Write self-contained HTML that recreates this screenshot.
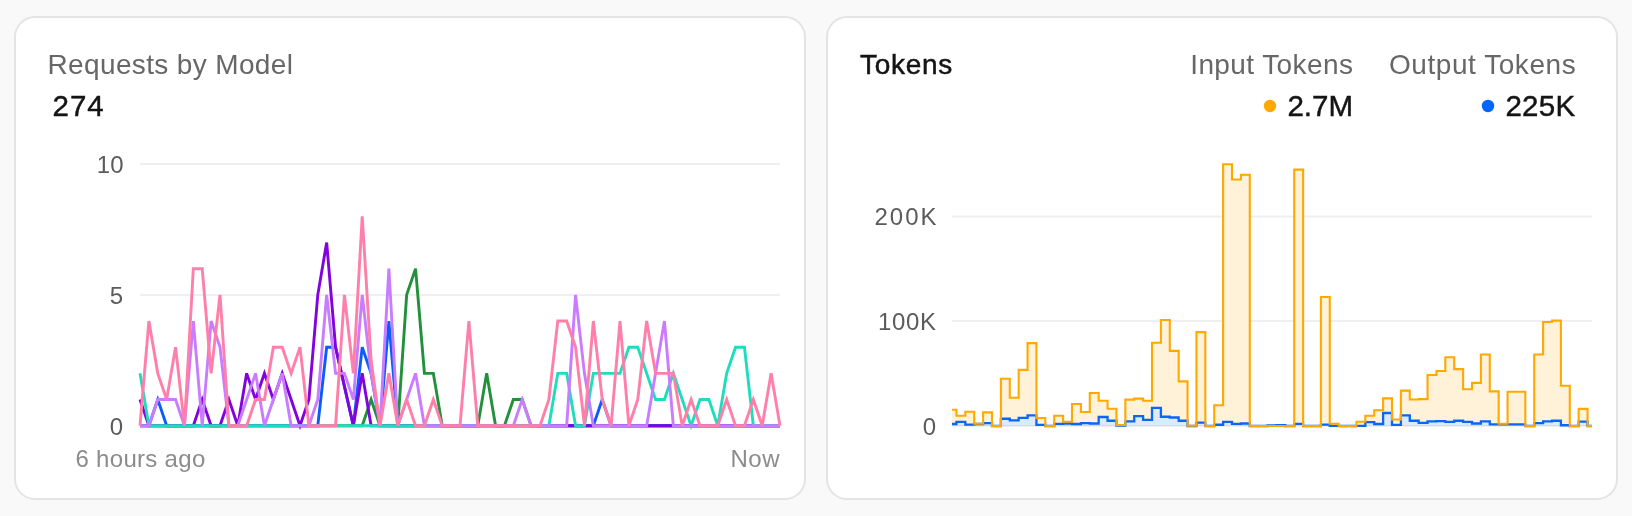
<!DOCTYPE html>
<html><head><meta charset="utf-8"><title>Dashboard</title>
<style>
html,body{margin:0;padding:0;background:#f9f9f9;width:1632px;height:516px;overflow:hidden}
svg{position:absolute;left:0;top:0;display:block;will-change:transform}
text{font-family:'Liberation Sans', Arial, sans-serif}
.card{fill:#fff;stroke:#e4e4e4;stroke-width:2}
.title{font-size:28px;fill:#676767}
.big{font-size:29.5px;fill:#141414}
.ax{font-size:24px;fill:#5b5b5b}
.xl{font-size:24px;fill:#8c8c8c}
.grid{stroke:#efefef;stroke-width:2}
</style></head>
<body>
<svg width="1632" height="516" viewBox="0 0 1632 516">
<rect class="card" x="15" y="17" width="790" height="482" rx="20" ry="20"/>
<rect class="card" x="827" y="17" width="790" height="482" rx="20" ry="20"/>

<!-- Left card -->
<text class="title" x="47.5" y="74" letter-spacing="0.36">Requests by Model</text>
<text class="big" x="52.5" y="116.2" letter-spacing="1.0" stroke="#141414" stroke-width="0.45">274</text>
<line class="grid" x1="140" y1="164" x2="780" y2="164"/>
<line class="grid" x1="140" y1="295" x2="780" y2="295"/>
<line class="grid" x1="140" y1="425.7" x2="780" y2="425.7"/>
<text class="ax" x="123.5" y="172.8" text-anchor="end">10</text>
<text class="ax" x="123" y="303.8" text-anchor="end">5</text>
<text class="ax" x="123" y="434.8" text-anchor="end">0</text>
<text class="xl" x="75.5" y="467" letter-spacing="0.3">6 hours ago</text>
<text class="xl" x="780.2" y="467" text-anchor="end" letter-spacing="0.6">Now</text>
<g>
<polyline points="140.00,425.70 148.89,425.70 157.78,425.70 166.67,425.70 175.56,425.70 184.44,425.70 193.33,425.70 202.22,425.70 211.11,425.70 220.00,425.70 228.89,425.70 237.78,425.70 246.67,425.70 255.56,425.70 264.44,425.70 273.33,425.70 282.22,425.70 291.11,425.70 300.00,425.70 308.89,425.70 317.78,425.70 326.67,425.70 335.56,425.70 344.44,425.70 353.33,425.70 362.22,425.70 371.11,399.53 380.00,425.70 388.89,425.70 397.78,425.70 406.67,294.85 415.56,268.68 424.44,373.36 433.33,373.36 442.22,425.70 451.11,425.70 460.00,425.70 468.89,425.70 477.78,425.70 486.67,373.36 495.56,425.70 504.44,425.70 513.33,399.53 522.22,399.53 531.11,425.70 540.00,425.70 548.89,425.70 557.78,425.70 566.67,425.70 575.56,425.70 584.44,425.70 593.33,425.70 602.22,425.70 611.11,425.70 620.00,425.70 628.89,425.70 637.78,425.70 646.67,425.70 655.56,425.70 664.44,425.70 673.33,425.70 682.22,425.70 691.11,425.70 700.00,425.70 708.89,425.70 717.78,425.70 726.67,425.70 735.56,425.70 744.44,425.70 753.33,425.70 762.22,425.70 771.11,425.70 780.00,425.70" fill="none" stroke="#22913c" stroke-width="2.9"/>
<polyline points="140.00,425.70 148.89,425.70 157.78,399.53 166.67,425.70 175.56,425.70 184.44,425.70 193.33,425.70 202.22,425.70 211.11,425.70 220.00,425.70 228.89,425.70 237.78,425.70 246.67,425.70 255.56,425.70 264.44,425.70 273.33,425.70 282.22,425.70 291.11,425.70 300.00,425.70 308.89,425.70 317.78,425.70 326.67,347.19 335.56,347.19 344.44,386.44 353.33,425.70 362.22,347.19 371.11,373.36 380.00,425.70 388.89,321.02 397.78,425.70 406.67,425.70 415.56,425.70 424.44,425.70 433.33,425.70 442.22,425.70 451.11,425.70 460.00,425.70 468.89,425.70 477.78,425.70 486.67,425.70 495.56,425.70 504.44,425.70 513.33,425.70 522.22,425.70 531.11,425.70 540.00,425.70 548.89,425.70 557.78,425.70 566.67,425.70 575.56,425.70 584.44,425.70 593.33,425.70 602.22,399.53 611.11,425.70 620.00,425.70 628.89,425.70 637.78,425.70 646.67,425.70 655.56,425.70 664.44,425.70 673.33,425.70 682.22,425.70 691.11,425.70 700.00,425.70 708.89,425.70 717.78,425.70 726.67,425.70 735.56,425.70 744.44,425.70 753.33,425.70 762.22,425.70 771.11,425.70 780.00,425.70" fill="none" stroke="#0b5cff" stroke-width="2.9"/>
<polyline points="140.00,399.53 148.89,425.70 157.78,425.70 166.67,425.70 175.56,425.70 184.44,425.70 193.33,425.70 202.22,399.53 211.11,425.70 220.00,425.70 228.89,399.53 237.78,425.70 246.67,373.36 255.56,399.53 264.44,373.36 273.33,399.53 282.22,373.36 291.11,399.53 300.00,425.70 308.89,399.53 317.78,294.85 326.67,242.51 335.56,347.19 344.44,386.44 353.33,425.70 362.22,373.36 371.11,425.70 380.00,425.70 388.89,425.70 397.78,425.70 406.67,425.70 415.56,425.70 424.44,425.70 433.33,425.70 442.22,425.70 451.11,425.70 460.00,425.70 468.89,425.70 477.78,425.70 486.67,425.70 495.56,425.70 504.44,425.70 513.33,425.70 522.22,425.70 531.11,425.70 540.00,425.70 548.89,425.70 557.78,425.70 566.67,425.70 575.56,425.70 584.44,425.70 593.33,425.70 602.22,425.70 611.11,425.70 620.00,425.70 628.89,425.70 637.78,425.70 646.67,425.70 655.56,425.70 664.44,425.70 673.33,425.70 682.22,425.70 691.11,425.70 700.00,425.70 708.89,425.70 717.78,425.70 726.67,425.70 735.56,425.70 744.44,425.70 753.33,425.70 762.22,425.70 771.11,425.70 780.00,425.70" fill="none" stroke="#8303dd" stroke-width="2.9"/>
<polyline points="140.00,373.36 148.89,425.70 157.78,425.70 166.67,425.70 175.56,425.70 184.44,425.70 193.33,425.70 202.22,425.70 211.11,425.70 220.00,425.70 228.89,425.70 237.78,425.70 246.67,425.70 255.56,425.70 264.44,425.70 273.33,425.70 282.22,425.70 291.11,425.70 300.00,425.70 308.89,425.70 317.78,425.70 326.67,425.70 335.56,425.70 344.44,425.70 353.33,425.70 362.22,425.70 371.11,425.70 380.00,425.70 388.89,425.70 397.78,425.70 406.67,425.70 415.56,425.70 424.44,425.70 433.33,425.70 442.22,425.70 451.11,425.70 460.00,425.70 468.89,425.70 477.78,425.70 486.67,425.70 495.56,425.70 504.44,425.70 513.33,425.70 522.22,425.70 531.11,425.70 540.00,425.70 548.89,425.70 557.78,373.36 566.67,373.36 575.56,425.70 584.44,425.70 593.33,373.36 602.22,373.36 611.11,373.36 620.00,373.36 628.89,347.19 637.78,347.19 646.67,373.36 655.56,399.53 664.44,399.53 673.33,373.36 682.22,399.53 691.11,425.70 700.00,399.53 708.89,399.53 717.78,425.70 726.67,373.36 735.56,347.19 744.44,347.19 753.33,425.70 762.22,425.70 771.11,425.70 780.00,425.70" fill="none" stroke="#1fdcbd" stroke-width="2.9"/>
<polyline points="140.00,425.70 148.89,425.70 157.78,399.53 166.67,399.53 175.56,399.53 184.44,425.70 193.33,321.02 202.22,425.70 211.11,321.02 220.00,347.19 228.89,425.70 237.78,425.70 246.67,399.53 255.56,373.36 264.44,425.70 273.33,399.53 282.22,373.36 291.11,425.70 300.00,425.70 308.89,425.70 317.78,399.53 326.67,294.85 335.56,373.36 344.44,373.36 353.33,399.53 362.22,294.85 371.11,373.36 380.00,425.70 388.89,268.68 397.78,425.70 406.67,399.53 415.56,373.36 424.44,425.70 433.33,425.70 442.22,425.70 451.11,425.70 460.00,425.70 468.89,425.70 477.78,425.70 486.67,425.70 495.56,425.70 504.44,425.70 513.33,425.70 522.22,399.53 531.11,425.70 540.00,425.70 548.89,425.70 557.78,425.70 566.67,425.70 575.56,294.85 584.44,373.36 593.33,425.70 602.22,425.70 611.11,425.70 620.00,425.70 628.89,425.70 637.78,425.70 646.67,425.70 655.56,373.36 664.44,321.02 673.33,425.70 682.22,425.70 691.11,425.70 700.00,425.70 708.89,425.70 717.78,425.70 726.67,425.70 735.56,425.70 744.44,425.70 753.33,425.70 762.22,425.70 771.11,425.70 780.00,425.70" fill="none" stroke="#c97cff" stroke-width="2.9"/>
<polyline points="140.00,425.70 148.89,321.02 157.78,373.36 166.67,399.53 175.56,347.19 184.44,425.70 193.33,268.68 202.22,268.68 211.11,373.36 220.00,294.85 228.89,425.70 237.78,425.70 246.67,425.70 255.56,399.53 264.44,399.53 273.33,347.19 282.22,347.19 291.11,373.36 300.00,347.19 308.89,425.70 317.78,425.70 326.67,425.70 335.56,425.70 344.44,294.85 353.33,373.36 362.22,216.34 371.11,360.27 380.00,425.70 388.89,373.36 397.78,425.70 406.67,399.53 415.56,425.70 424.44,425.70 433.33,399.53 442.22,425.70 451.11,425.70 460.00,425.70 468.89,321.02 477.78,425.70 486.67,425.70 495.56,425.70 504.44,425.70 513.33,425.70 522.22,425.70 531.11,425.70 540.00,425.70 548.89,399.53 557.78,321.02 566.67,321.02 575.56,347.19 584.44,425.70 593.33,321.02 602.22,399.53 611.11,425.70 620.00,321.02 628.89,425.70 637.78,399.53 646.67,321.02 655.56,373.36 664.44,373.36 673.33,373.36 682.22,425.70 691.11,399.53 700.00,425.70 708.89,425.70 717.78,425.70 726.67,399.53 735.56,425.70 744.44,425.70 753.33,399.53 762.22,425.70 771.11,373.36 780.00,425.70" fill="none" stroke="#ff7fa8" stroke-width="2.9"/>
</g>

<!-- Right card -->
<text class="big" x="860" y="74" style="font-size:28px" letter-spacing="0.7" stroke="#141414" stroke-width="0.5">Tokens</text>
<text class="title" x="1353.3" y="74" text-anchor="end" letter-spacing="0.4">Input Tokens</text>
<text class="title" x="1576.2" y="74" text-anchor="end" letter-spacing="0.55">Output Tokens</text>
<circle cx="1270" cy="106" r="6.2" fill="#ffaa00"/>
<text class="big" x="1353" y="116.2" text-anchor="end" letter-spacing="0" stroke="#141414" stroke-width="0.45">2.7M</text>
<circle cx="1488" cy="106" r="6.2" fill="#0066ff"/>
<text class="big" x="1575.5" y="116.2" text-anchor="end" letter-spacing="0.3" stroke="#141414" stroke-width="0.45">225K</text>
<line class="grid" x1="952" y1="216.4" x2="1592" y2="216.4"/>
<line class="grid" x1="952" y1="321.1" x2="1592" y2="321.1"/>
<line class="grid" x1="952" y1="426" x2="1592" y2="426"/>
<text class="ax" x="938.5" y="225" text-anchor="end" letter-spacing="2.0">200K</text>
<text class="ax" x="936.5" y="329.8" text-anchor="end" letter-spacing="0.6">100K</text>
<text class="ax" x="936" y="435" text-anchor="end">0</text>
<path d="M952.00,424.01 L956.44,424.01 L956.44,421.80 L965.33,421.80 L965.33,424.53 L974.22,424.53 L974.22,424.01 L983.11,424.01 L983.11,423.06 L992.00,423.06 L992.00,426.00 L1000.89,426.00 L1000.89,418.76 L1009.78,418.76 L1009.78,420.34 L1018.67,420.34 L1018.67,417.82 L1027.56,417.82 L1027.56,415.30 L1036.44,415.30 L1036.44,424.85 L1045.33,424.85 L1045.33,426.00 L1054.22,426.00 L1054.22,423.80 L1063.11,423.80 L1063.11,423.48 L1072.00,423.48 L1072.00,424.01 L1080.89,424.01 L1080.89,423.06 L1089.78,423.06 L1089.78,423.48 L1098.67,423.48 L1098.67,416.98 L1107.56,416.98 L1107.56,420.75 L1116.44,420.75 L1116.44,425.48 L1125.33,425.48 L1125.33,421.28 L1134.22,421.28 L1134.22,416.03 L1143.11,416.03 L1143.11,419.81 L1152.00,419.81 L1152.00,407.96 L1160.89,407.96 L1160.89,416.77 L1169.78,416.77 L1169.78,417.50 L1178.67,417.50 L1178.67,420.75 L1187.56,420.75 L1187.56,426.00 L1196.44,426.00 L1196.44,422.54 L1205.33,422.54 L1205.33,426.00 L1214.22,426.00 L1214.22,424.74 L1223.11,424.74 L1223.11,421.80 L1232.00,421.80 L1232.00,423.80 L1240.89,423.80 L1240.89,423.48 L1249.78,423.48 L1249.78,426.00 L1258.67,426.00 L1258.67,426.00 L1267.56,426.00 L1267.56,425.48 L1276.44,425.48 L1276.44,425.06 L1285.33,425.06 L1285.33,426.00 L1294.22,426.00 L1294.22,423.80 L1303.11,423.80 L1303.11,426.00 L1312.00,426.00 L1312.00,426.00 L1320.89,426.00 L1320.89,424.64 L1329.78,424.64 L1329.78,425.90 L1338.67,425.90 L1338.67,426.00 L1347.56,426.00 L1347.56,426.00 L1356.44,426.00 L1356.44,425.90 L1365.33,425.90 L1365.33,422.12 L1374.22,422.12 L1374.22,424.01 L1383.11,424.01 L1383.11,412.99 L1392.00,412.99 L1392.00,424.85 L1400.89,424.85 L1400.89,415.30 L1409.78,415.30 L1409.78,420.75 L1418.67,420.75 L1418.67,422.85 L1427.56,422.85 L1427.56,421.28 L1436.44,421.28 L1436.44,421.07 L1445.33,421.07 L1445.33,421.80 L1454.22,421.80 L1454.22,420.75 L1463.11,420.75 L1463.11,421.80 L1472.00,421.80 L1472.00,423.48 L1480.89,423.48 L1480.89,421.28 L1489.78,421.28 L1489.78,424.32 L1498.67,424.32 L1498.67,424.32 L1507.56,424.32 L1507.56,424.32 L1516.44,424.32 L1516.44,424.32 L1525.33,424.32 L1525.33,426.00 L1534.22,426.00 L1534.22,423.06 L1543.11,423.06 L1543.11,421.28 L1552.00,421.28 L1552.00,420.75 L1560.89,420.75 L1560.89,425.27 L1569.78,425.27 L1569.78,426.00 L1578.67,426.00 L1578.67,421.59 L1587.56,421.59 L1587.56,426.00 L1592.00,426.00 L1592.00,426.00 L952.00,426.00 Z" fill="#006ef0" fill-opacity="0.14" stroke="none"/>
<path d="M952.00,409.74 L956.44,409.74 L956.44,415.82 L965.33,415.82 L965.33,411.73 L974.22,411.73 L974.22,423.80 L983.11,423.80 L983.11,412.36 L992.00,412.36 L992.00,426.00 L1000.89,426.00 L1000.89,378.80 L1009.78,378.80 L1009.78,397.68 L1018.67,397.68 L1018.67,369.88 L1027.56,369.88 L1027.56,343.13 L1036.44,343.13 L1036.44,418.03 L1045.33,418.03 L1045.33,426.00 L1054.22,426.00 L1054.22,415.82 L1063.11,415.82 L1063.11,421.80 L1072.00,421.80 L1072.00,403.97 L1080.89,403.97 L1080.89,412.05 L1089.78,412.05 L1089.78,392.96 L1098.67,392.96 L1098.67,400.82 L1107.56,400.82 L1107.56,408.69 L1116.44,408.69 L1116.44,425.06 L1125.33,425.06 L1125.33,399.67 L1134.22,399.67 L1134.22,398.62 L1143.11,398.62 L1143.11,400.72 L1152.00,400.72 L1152.00,342.71 L1160.89,342.71 L1160.89,320.05 L1169.78,320.05 L1169.78,350.89 L1178.67,350.89 L1178.67,381.42 L1187.56,381.42 L1187.56,425.79 L1196.44,425.79 L1196.44,332.11 L1205.33,332.11 L1205.33,426.00 L1214.22,426.00 L1214.22,405.23 L1223.11,405.23 L1223.11,164.27 L1232.00,164.27 L1232.00,179.49 L1240.89,179.49 L1240.89,174.76 L1249.78,174.76 L1249.78,426.00 L1258.67,426.00 L1258.67,426.00 L1267.56,426.00 L1267.56,426.00 L1276.44,426.00 L1276.44,426.00 L1285.33,426.00 L1285.33,426.00 L1294.22,426.00 L1294.22,169.62 L1303.11,169.62 L1303.11,426.00 L1312.00,426.00 L1312.00,426.00 L1320.89,426.00 L1320.89,296.97 L1329.78,296.97 L1329.78,423.80 L1338.67,423.80 L1338.67,426.00 L1347.56,426.00 L1347.56,426.00 L1356.44,426.00 L1356.44,421.80 L1365.33,421.80 L1365.33,415.82 L1374.22,415.82 L1374.22,410.26 L1383.11,410.26 L1383.11,398.41 L1392.00,398.41 L1392.00,419.50 L1400.89,419.50 L1400.89,390.65 L1409.78,390.65 L1409.78,399.46 L1418.67,399.46 L1418.67,399.15 L1427.56,399.15 L1427.56,375.02 L1436.44,375.02 L1436.44,370.93 L1445.33,370.93 L1445.33,357.19 L1454.22,357.19 L1454.22,369.14 L1463.11,369.14 L1463.11,389.18 L1472.00,389.18 L1472.00,382.89 L1480.89,382.89 L1480.89,354.56 L1489.78,354.56 L1489.78,391.38 L1498.67,391.38 L1498.67,423.80 L1507.56,423.80 L1507.56,391.80 L1516.44,391.80 L1516.44,391.80 L1525.33,391.80 L1525.33,426.00 L1534.22,426.00 L1534.22,354.56 L1543.11,354.56 L1543.11,321.94 L1552.00,321.94 L1552.00,320.58 L1560.89,320.58 L1560.89,385.82 L1569.78,385.82 L1569.78,426.00 L1578.67,426.00 L1578.67,408.90 L1587.56,408.90 L1587.56,426.00 L1592.00,426.00 L1592.00,426.00 L1587.56,426.00 L1587.56,421.59 L1578.67,421.59 L1578.67,426.00 L1569.78,426.00 L1569.78,425.27 L1560.89,425.27 L1560.89,420.75 L1552.00,420.75 L1552.00,421.28 L1543.11,421.28 L1543.11,423.06 L1534.22,423.06 L1534.22,426.00 L1525.33,426.00 L1525.33,424.32 L1516.44,424.32 L1516.44,424.32 L1507.56,424.32 L1507.56,424.32 L1498.67,424.32 L1498.67,424.32 L1489.78,424.32 L1489.78,421.28 L1480.89,421.28 L1480.89,423.48 L1472.00,423.48 L1472.00,421.80 L1463.11,421.80 L1463.11,420.75 L1454.22,420.75 L1454.22,421.80 L1445.33,421.80 L1445.33,421.07 L1436.44,421.07 L1436.44,421.28 L1427.56,421.28 L1427.56,422.85 L1418.67,422.85 L1418.67,420.75 L1409.78,420.75 L1409.78,415.30 L1400.89,415.30 L1400.89,424.85 L1392.00,424.85 L1392.00,412.99 L1383.11,412.99 L1383.11,424.01 L1374.22,424.01 L1374.22,422.12 L1365.33,422.12 L1365.33,425.90 L1356.44,425.90 L1356.44,426.00 L1347.56,426.00 L1347.56,426.00 L1338.67,426.00 L1338.67,425.90 L1329.78,425.90 L1329.78,424.64 L1320.89,424.64 L1320.89,426.00 L1312.00,426.00 L1312.00,426.00 L1303.11,426.00 L1303.11,423.80 L1294.22,423.80 L1294.22,426.00 L1285.33,426.00 L1285.33,425.06 L1276.44,425.06 L1276.44,425.48 L1267.56,425.48 L1267.56,426.00 L1258.67,426.00 L1258.67,426.00 L1249.78,426.00 L1249.78,423.48 L1240.89,423.48 L1240.89,423.80 L1232.00,423.80 L1232.00,421.80 L1223.11,421.80 L1223.11,424.74 L1214.22,424.74 L1214.22,426.00 L1205.33,426.00 L1205.33,422.54 L1196.44,422.54 L1196.44,426.00 L1187.56,426.00 L1187.56,420.75 L1178.67,420.75 L1178.67,417.50 L1169.78,417.50 L1169.78,416.77 L1160.89,416.77 L1160.89,407.96 L1152.00,407.96 L1152.00,419.81 L1143.11,419.81 L1143.11,416.03 L1134.22,416.03 L1134.22,421.28 L1125.33,421.28 L1125.33,425.48 L1116.44,425.48 L1116.44,420.75 L1107.56,420.75 L1107.56,416.98 L1098.67,416.98 L1098.67,423.48 L1089.78,423.48 L1089.78,423.06 L1080.89,423.06 L1080.89,424.01 L1072.00,424.01 L1072.00,423.48 L1063.11,423.48 L1063.11,423.80 L1054.22,423.80 L1054.22,426.00 L1045.33,426.00 L1045.33,424.85 L1036.44,424.85 L1036.44,415.30 L1027.56,415.30 L1027.56,417.82 L1018.67,417.82 L1018.67,420.34 L1009.78,420.34 L1009.78,418.76 L1000.89,418.76 L1000.89,426.00 L992.00,426.00 L992.00,423.06 L983.11,423.06 L983.11,424.01 L974.22,424.01 L974.22,424.53 L965.33,424.53 L965.33,421.80 L956.44,421.80 L956.44,424.01 L952.00,424.01 Z" fill="#fff2d9" stroke="none"/>
<path d="M952.00,424.01 L956.44,424.01 L956.44,421.80 L965.33,421.80 L965.33,424.53 L974.22,424.53 L974.22,424.01 L983.11,424.01 L983.11,423.06 L992.00,423.06 L992.00,426.00 L1000.89,426.00 L1000.89,418.76 L1009.78,418.76 L1009.78,420.34 L1018.67,420.34 L1018.67,417.82 L1027.56,417.82 L1027.56,415.30 L1036.44,415.30 L1036.44,424.85 L1045.33,424.85 L1045.33,426.00 L1054.22,426.00 L1054.22,423.80 L1063.11,423.80 L1063.11,423.48 L1072.00,423.48 L1072.00,424.01 L1080.89,424.01 L1080.89,423.06 L1089.78,423.06 L1089.78,423.48 L1098.67,423.48 L1098.67,416.98 L1107.56,416.98 L1107.56,420.75 L1116.44,420.75 L1116.44,425.48 L1125.33,425.48 L1125.33,421.28 L1134.22,421.28 L1134.22,416.03 L1143.11,416.03 L1143.11,419.81 L1152.00,419.81 L1152.00,407.96 L1160.89,407.96 L1160.89,416.77 L1169.78,416.77 L1169.78,417.50 L1178.67,417.50 L1178.67,420.75 L1187.56,420.75 L1187.56,426.00 L1196.44,426.00 L1196.44,422.54 L1205.33,422.54 L1205.33,426.00 L1214.22,426.00 L1214.22,424.74 L1223.11,424.74 L1223.11,421.80 L1232.00,421.80 L1232.00,423.80 L1240.89,423.80 L1240.89,423.48 L1249.78,423.48 L1249.78,426.00 L1258.67,426.00 L1258.67,426.00 L1267.56,426.00 L1267.56,425.48 L1276.44,425.48 L1276.44,425.06 L1285.33,425.06 L1285.33,426.00 L1294.22,426.00 L1294.22,423.80 L1303.11,423.80 L1303.11,426.00 L1312.00,426.00 L1312.00,426.00 L1320.89,426.00 L1320.89,424.64 L1329.78,424.64 L1329.78,425.90 L1338.67,425.90 L1338.67,426.00 L1347.56,426.00 L1347.56,426.00 L1356.44,426.00 L1356.44,425.90 L1365.33,425.90 L1365.33,422.12 L1374.22,422.12 L1374.22,424.01 L1383.11,424.01 L1383.11,412.99 L1392.00,412.99 L1392.00,424.85 L1400.89,424.85 L1400.89,415.30 L1409.78,415.30 L1409.78,420.75 L1418.67,420.75 L1418.67,422.85 L1427.56,422.85 L1427.56,421.28 L1436.44,421.28 L1436.44,421.07 L1445.33,421.07 L1445.33,421.80 L1454.22,421.80 L1454.22,420.75 L1463.11,420.75 L1463.11,421.80 L1472.00,421.80 L1472.00,423.48 L1480.89,423.48 L1480.89,421.28 L1489.78,421.28 L1489.78,424.32 L1498.67,424.32 L1498.67,424.32 L1507.56,424.32 L1507.56,424.32 L1516.44,424.32 L1516.44,424.32 L1525.33,424.32 L1525.33,426.00 L1534.22,426.00 L1534.22,423.06 L1543.11,423.06 L1543.11,421.28 L1552.00,421.28 L1552.00,420.75 L1560.89,420.75 L1560.89,425.27 L1569.78,425.27 L1569.78,426.00 L1578.67,426.00 L1578.67,421.59 L1587.56,421.59 L1587.56,426.00 L1592.00,426.00" fill="none" stroke="#0a66f5" stroke-width="2.3"/>
<path d="M952.00,409.74 L956.44,409.74 L956.44,415.82 L965.33,415.82 L965.33,411.73 L974.22,411.73 L974.22,423.80 L983.11,423.80 L983.11,412.36 L992.00,412.36 L992.00,426.00 L1000.89,426.00 L1000.89,378.80 L1009.78,378.80 L1009.78,397.68 L1018.67,397.68 L1018.67,369.88 L1027.56,369.88 L1027.56,343.13 L1036.44,343.13 L1036.44,418.03 L1045.33,418.03 L1045.33,426.00 L1054.22,426.00 L1054.22,415.82 L1063.11,415.82 L1063.11,421.80 L1072.00,421.80 L1072.00,403.97 L1080.89,403.97 L1080.89,412.05 L1089.78,412.05 L1089.78,392.96 L1098.67,392.96 L1098.67,400.82 L1107.56,400.82 L1107.56,408.69 L1116.44,408.69 L1116.44,425.06 L1125.33,425.06 L1125.33,399.67 L1134.22,399.67 L1134.22,398.62 L1143.11,398.62 L1143.11,400.72 L1152.00,400.72 L1152.00,342.71 L1160.89,342.71 L1160.89,320.05 L1169.78,320.05 L1169.78,350.89 L1178.67,350.89 L1178.67,381.42 L1187.56,381.42 L1187.56,425.79 L1196.44,425.79 L1196.44,332.11 L1205.33,332.11 L1205.33,426.00 L1214.22,426.00 L1214.22,405.23 L1223.11,405.23 L1223.11,164.27 L1232.00,164.27 L1232.00,179.49 L1240.89,179.49 L1240.89,174.76 L1249.78,174.76 L1249.78,426.00 L1258.67,426.00 L1258.67,426.00 L1267.56,426.00 L1267.56,426.00 L1276.44,426.00 L1276.44,426.00 L1285.33,426.00 L1285.33,426.00 L1294.22,426.00 L1294.22,169.62 L1303.11,169.62 L1303.11,426.00 L1312.00,426.00 L1312.00,426.00 L1320.89,426.00 L1320.89,296.97 L1329.78,296.97 L1329.78,423.80 L1338.67,423.80 L1338.67,426.00 L1347.56,426.00 L1347.56,426.00 L1356.44,426.00 L1356.44,421.80 L1365.33,421.80 L1365.33,415.82 L1374.22,415.82 L1374.22,410.26 L1383.11,410.26 L1383.11,398.41 L1392.00,398.41 L1392.00,419.50 L1400.89,419.50 L1400.89,390.65 L1409.78,390.65 L1409.78,399.46 L1418.67,399.46 L1418.67,399.15 L1427.56,399.15 L1427.56,375.02 L1436.44,375.02 L1436.44,370.93 L1445.33,370.93 L1445.33,357.19 L1454.22,357.19 L1454.22,369.14 L1463.11,369.14 L1463.11,389.18 L1472.00,389.18 L1472.00,382.89 L1480.89,382.89 L1480.89,354.56 L1489.78,354.56 L1489.78,391.38 L1498.67,391.38 L1498.67,423.80 L1507.56,423.80 L1507.56,391.80 L1516.44,391.80 L1516.44,391.80 L1525.33,391.80 L1525.33,426.00 L1534.22,426.00 L1534.22,354.56 L1543.11,354.56 L1543.11,321.94 L1552.00,321.94 L1552.00,320.58 L1560.89,320.58 L1560.89,385.82 L1569.78,385.82 L1569.78,426.00 L1578.67,426.00 L1578.67,408.90 L1587.56,408.90 L1587.56,426.00 L1592.00,426.00" fill="none" stroke="#ffa800" stroke-width="2.1"/>
</svg>
</body></html>
